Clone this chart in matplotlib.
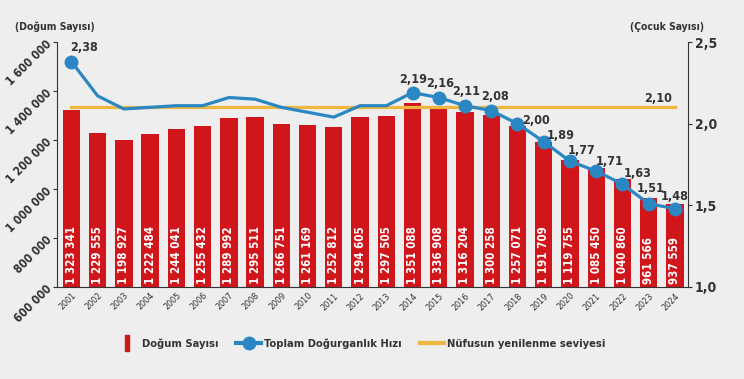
import numpy as np
import matplotlib.pyplot as plt
from matplotlib.lines import Line2D

plt.rcParams['font.family'] = ['DejaVu Sans']
plt.rcParams['font.stretch'] = 'condensed'

years = [str(y) for y in range(2001, 2025)]
births = [1323341, 1229555, 1198927, 1222484, 1244041, 1255432, 1289992, 1295511,
          1266751, 1261169, 1252812, 1294605, 1297505, 1351088, 1336908, 1316204,
          1300258, 1257071, 1191709, 1119755, 1085450, 1040860, 961566, 937559]
fertility = [2.38, 2.17, 2.09, 2.10, 2.11, 2.11, 2.16, 2.15, 2.10, 2.07, 2.04, 2.11,
             2.11, 2.19, 2.16, 2.11, 2.08, 2.00, 1.89, 1.77, 1.71, 1.63, 1.51, 1.48]
replacement = 2.10
labelled = [0, 13, 14, 15, 16, 17, 18, 19, 20, 21, 22, 23]
# label offsets in pixels (dx, dy)
offsets = {0: (13, 14), 13: (1, 13), 14: (1, 14), 15: (1, 14), 16: (4, 14),
           17: (19, 3), 18: (17, 6), 19: (12, 11), 20: (13, 10), 21: (15, 11),
           22: (2, 15), 23: (0, 12)}

red = '#d0151b'
blue = '#2b87c3'
yellow = '#eeb740'
dark = '#333333'

fig = plt.figure(figsize=(7.44, 3.79), dpi=100, facecolor='#eeeeee')
ax = fig.add_axes([57/744, 1-287/379, (688-57)/744, (287-42)/379])
ax.set_facecolor('none')
x = np.arange(len(years))

ax.bar(x, births, width=0.66, color=red, zorder=2)
for i, b in enumerate(births):
    s = f"{b:,}".replace(',', ' ')
    ax.text(i, 614000, s, rotation=90, ha='center', va='bottom', color='white',
            fontsize=8.3, fontweight='bold', zorder=3)

ax.set_ylim(600000, 1600000)
ax.set_xlim(-0.55, 23.5)
ax.set_yticks([600000, 800000, 1000000, 1200000, 1400000, 1600000])
ax.set_yticklabels([f"{v:,}".replace(',', ' ') for v in ax.get_yticks()],
                   rotation=45, rotation_mode='anchor', ha='right', va='center',
                   fontsize=8.5, fontweight='bold', color=dark)
ax.set_xticks(x)
ax.set_xticklabels(years, rotation=45, rotation_mode='anchor', ha='right', va='top',
                   fontsize=6.5, color=dark)
ax.tick_params(axis='x', length=0, pad=3)
ax.tick_params(axis='y', length=3, color=dark, pad=2)
for sp in ['top', 'right']:
    ax.spines[sp].set_visible(False)
ax.spines['left'].set_color(dark)
ax.spines['bottom'].set_color(dark)

ax2 = ax.twinx()
ax2.set_ylim(1.0, 2.5)
ax2.set_yticks([1.0, 1.5, 2.0, 2.5])
ax2.set_yticklabels(['1,0', '1,5', '2,0', '2,5'], fontsize=10, fontweight='bold', color=dark)
ax2.tick_params(axis='y', length=3, color=dark, pad=2)
for sp in ['top', 'left', 'bottom']:
    ax2.spines[sp].set_visible(False)
ax2.spines['right'].set_color(dark)

ax2.plot([x[0], x[-1]], [replacement, replacement], color=yellow, lw=2.3, zorder=3)
ax2.plot(x, fertility, color=blue, lw=2.3, marker='o', markersize=9,
         markevery=labelled, zorder=4)
for i in labelled:
    dx, dy = offsets[i]
    ax2.annotate(f"{fertility[i]:.2f}".replace('.', ','), (x[i], fertility[i]),
                 xytext=(dx, dy), textcoords='offset pixels', ha='center', va='center',
                 fontsize=9, fontweight='bold', color=dark, zorder=5)
ax2.text(22.35, replacement + 0.015, '2,10', ha='center', va='bottom',
         fontsize=9, fontweight='bold', color=dark)

fig.text(55/744, 1-27/379, '(Doğum Sayısı)', ha='center', va='center',
         fontsize=7.5, fontweight='bold', color=dark)
fig.text(667/744, 1-27/379, '(Çocuk Sayısı)', ha='center', va='center',
         fontsize=7.5, fontweight='bold', color=dark)

rect = [(-0.3, -1), (0.3, -1), (0.3, 1), (-0.3, 1), (-0.3, -1)]
handles = [Line2D([], [], ls='none', marker=rect, markersize=11, color=red),
           Line2D([], [], color=blue, lw=3, marker='o', markersize=9),
           Line2D([], [], color=yellow, lw=3)]
fig.legend(handles, ['Doğum Sayısı', 'Toplam Doğurganlık Hızı', 'Nüfusun yenilenme seviyesi'],
           loc='center', bbox_to_anchor=(360/744, 1-344/379), ncol=3, frameon=False,
           prop={'weight': 'bold', 'size': 8}, handlelength=2.2, columnspacing=1.6,
           handletextpad=0.3, labelcolor=dark)

fig.savefig('out.png', dpi=100, facecolor=fig.get_facecolor())
